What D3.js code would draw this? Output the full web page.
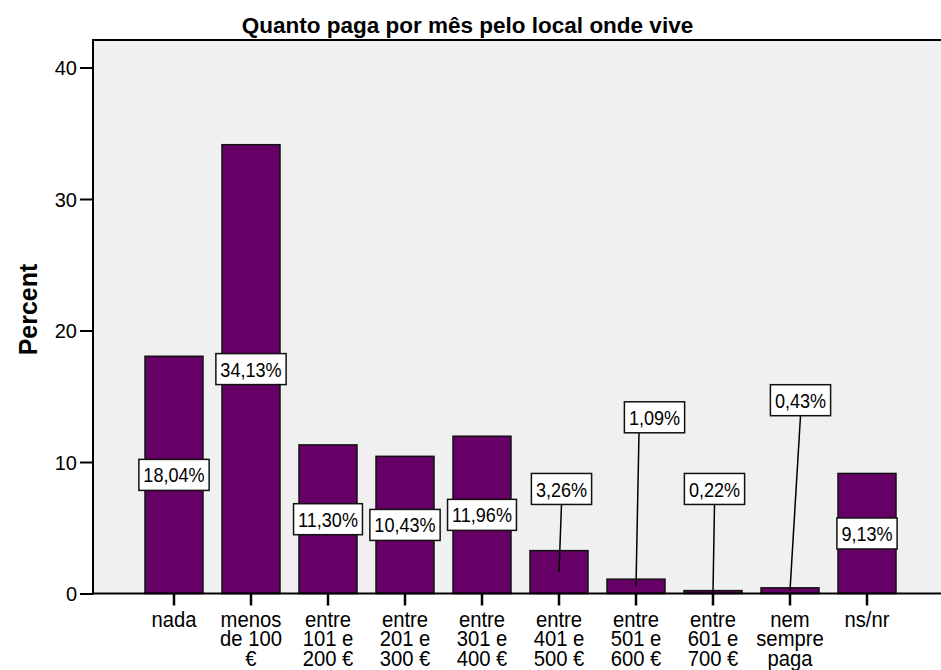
<!DOCTYPE html>
<html>
<head>
<meta charset="utf-8">
<script src="https://cdn.jsdelivr.net/npm/d3@7/dist/d3.min.js"></script>
<style>
  html, body { margin: 0; padding: 0; background: #ffffff; }
  svg { display: block; font-family: "Liberation Sans", Arial, sans-serif; }
</style>
</head>
<body>
<svg id="chart" width="941" height="670"></svg>
<script>
// ---- data ----
const categories = ["nada", "menos de 100 €", "entre 101 e 200 €", "entre 201 e 300 €", "entre 301 e 400 €",
                    "entre 401 e 500 €", "entre 501 e 600 €", "entre 601 e 700 €", "nem sempre paga", "ns/nr"];
const categoryLines = [["nada"], ["menos", "de 100", "€"], ["entre", "101 e", "200 €"], ["entre", "201 e", "300 €"],
                       ["entre", "301 e", "400 €"], ["entre", "401 e", "500 €"], ["entre", "501 e", "600 €"],
                       ["entre", "601 e", "700 €"], ["nem", "sempre", "paga"], ["ns/nr"]];
const percents = [18.04, 34.13, 11.30, 10.43, 11.96, 3.26, 1.09, 0.22, 0.43, 9.13];
const percentLabels = ["18,04%", "34,13%", "11,30%", "10,43%", "11,96%", "3,26%", "1,09%", "0,22%", "0,43%", "9,13%"];
const yTicks = [0, 10, 20, 30, 40];
const title = "Quanto paga por mês pelo local onde vive";
const yTitle = "Percent";

// ---- label placement (layout, in value units / px) ----
const labelAt = [null, null, null, null, null, 7.95, 13.4, 7.95, 14.7, null]; // null = bar middle
const labelDx = [0, 0, 0, 0, 0, 2.5, 18.5, 1.5, 10.5, 0];
const leaderDx = [0, 0, 0, 0, 0, 0, -15.5, 0, 0, 0];

// ---- layout ----
const plotLeft = 93, plotTop = 40, plotRight = 941, plotBottom = 593.5;
const svg = d3.select("#chart");

// narrow the glyphs of a text node horizontally (reference text is taller than wide); returns new width
function condense(sel, factor) {
  let out = 0;
  sel.each(function () {
    const len = this.getComputedTextLength();
    out = len * factor;
    d3.select(this).attr("textLength", out).attr("lengthAdjust", "spacingAndGlyphs");
  });
  return out;
}

const x = d3.scaleBand().domain(categories).range([135.5, 905.5]).paddingInner(0.247).paddingOuter(0.1235);
const y = d3.scaleLinear().domain([0, 40]).range([plotBottom, 67.5]);

// background
svg.append("rect").attr("x", plotLeft).attr("y", plotTop)
  .attr("width", plotRight - plotLeft).attr("height", plotBottom - plotTop)
  .attr("fill", "#f0f0f0");

// top border
svg.append("line").attr("x1", plotLeft).attr("x2", plotRight).attr("y1", plotTop).attr("y2", plotTop)
  .attr("stroke", "#000").attr("stroke-width", 2);

// title
svg.append("text").attr("x", 467.5).attr("y", 33).attr("text-anchor", "middle")
  .attr("font-size", 22.5).attr("font-weight", "bold").attr("fill", "#000").text(title);

// bars
svg.append("g").selectAll("rect").data(percents).join("rect")
  .attr("x", (d, i) => x(categories[i]))
  .attr("y", d => y(d))
  .attr("width", x.bandwidth())
  .attr("height", d => y(0) - y(d))
  .attr("fill", "#660066")
  .attr("stroke", "#111").attr("stroke-width", 1.5);

// y axis
const yAxis = d3.axisLeft(y).tickValues(yTicks).tickSize(13).tickPadding(3).tickFormat(d3.format("d"));
const yg = svg.append("g").attr("transform", `translate(${plotLeft},0)`).call(yAxis);
yg.select(".domain").remove();
yg.selectAll(".tick line").attr("stroke", "#000").attr("stroke-width", 2);
yg.selectAll(".tick text").attr("font-size", 20).attr("font-family", "Liberation Sans, Arial, sans-serif")
  .attr("fill", "#000").attr("dy", "0.36em");
svg.append("line").attr("x1", plotLeft).attr("x2", plotLeft).attr("y1", plotTop - 1).attr("y2", plotBottom + 1)
  .attr("stroke", "#000").attr("stroke-width", 2);

// x axis
const xAxis = d3.axisBottom(x).tickSize(12).tickFormat("");
const xg = svg.append("g").attr("transform", `translate(0,${plotBottom})`).call(xAxis);
xg.select(".domain").remove();
xg.selectAll(".tick line").attr("stroke", "#000").attr("stroke-width", 2.5);
svg.append("line").attr("x1", plotLeft).attr("x2", plotRight).attr("y1", plotBottom).attr("y2", plotBottom)
  .attr("stroke", "#000").attr("stroke-width", 2);

// category labels
const cl = svg.append("g");
categories.forEach((c, i) => {
  const cx = x(c) + x.bandwidth() / 2;
  categoryLines[i].forEach((ln, j) => {
    const t = cl.append("text").attr("x", cx).attr("y", 626.5 + j * 19.5)
      .attr("text-anchor", "middle").attr("font-size", 22).attr("fill", "#000").text(ln);
    condense(t, 0.92);
  });
});

// y title
svg.append("text").attr("transform", `translate(37,309.5) rotate(-90)`).attr("text-anchor", "middle")
  .attr("font-size", 25).attr("font-weight", "bold").attr("fill", "#000").text(yTitle);

// value labels
const lg = svg.append("g");
percents.forEach((v, i) => {
  const cx = x(categories[i]) + x.bandwidth() / 2;
  const barMid = y(v / 2);
  const ly = labelAt[i] === null ? barMid : y(labelAt[i]);
  const lx = cx + labelDx[i];
  const g = lg.append("g");
  const txt = g.append("text").attr("x", lx).attr("y", ly).attr("dy", "0.36em")
    .attr("text-anchor", "middle").attr("font-size", 21).attr("fill", "#000").text(percentLabels[i]);
  const tw = condense(txt, 0.86);
  const w = tw + 9;
  const h = 31;
  if (labelAt[i] !== null) {
    g.insert("line", "text").attr("x1", lx + leaderDx[i]).attr("y1", ly + h / 2)
      .attr("x2", cx).attr("y2", barMid).attr("stroke", "#000").attr("stroke-width", 1.5);
  }
  g.insert("rect", "text").attr("x", lx - w / 2).attr("y", ly - h / 2).attr("width", w).attr("height", h)
    .attr("fill", "#fff").attr("stroke", "#111").attr("stroke-width", 1.5);
});
</script>
</body>
</html>
